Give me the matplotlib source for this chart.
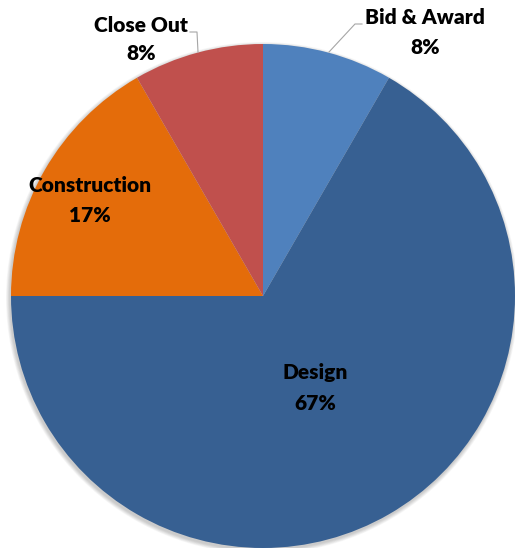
import matplotlib.pyplot as plt
from matplotlib.patches import Circle

# project phase shares (months out of a year)
phases = ['Bid & Award', 'Design', 'Construction', 'Close Out']
months = [1, 8, 2, 1]
colors = ['#4f81bd', '#376092', '#e46c0a', '#c0504d']

W, H = 515, 548
cx, cy, r = 263, H - 296, 252

fig = plt.figure(figsize=(W / 100, H / 100), dpi=100)
ax = fig.add_axes([0, 0, 1, 1])

# soft drop shadow behind the pie
for k in range(6):
    ax.add_patch(Circle((cx - 1, cy - 2), r + 4 - k * 0.7, color='#000000',
                        alpha=0.035, lw=0, zorder=0))

wedges, _ = ax.pie(months, colors=colors, startangle=90, counterclock=False,
                   center=(cx, cy), radius=r, frame=True,
                   wedgeprops=dict(linewidth=0))
ax.set_xlim(0, W)
ax.set_ylim(0, H)
ax.axis('off')

total = sum(months)
pcts = ['%d%%' % round(100.0 * m / total) for m in months]

font = dict(family=['Lato', 'DejaVu Sans'], fontweight='heavy', fontsize=15,
            ha='center', va='center', color='black')
label_pos = [(425, 18, 47), (315, 373, 403), (90, 186, 215), (141, 25, 53)]
for name, pct, (x, y1, y2) in zip(phases, pcts, label_pos):
    ax.text(x, H - y1, name, **font)
    ax.text(x, H - y2, pct, **font)

# leader lines for the two small slices
ax.plot([329, 355, 362], [H - 52, H - 24, H - 24], color='#a6a6a6', lw=0.8)
ax.plot([198, 197, 190], [H - 52, H - 32, H - 32], color='#a6a6a6', lw=0.8)

fig.savefig('out.png', dpi=100)
